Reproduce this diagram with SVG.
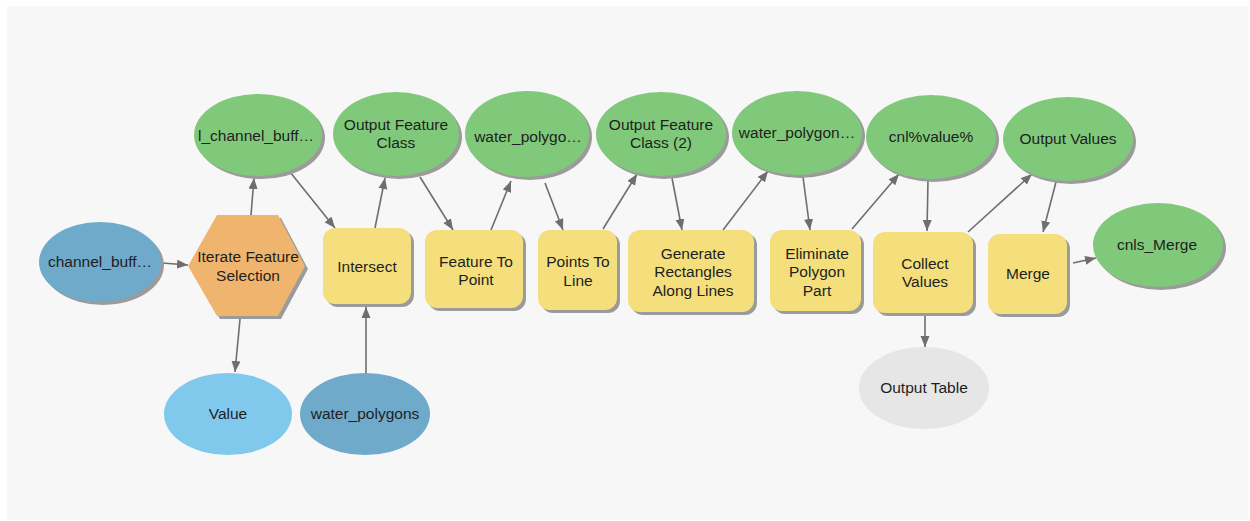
<svg xmlns="http://www.w3.org/2000/svg" width="1250" height="521" viewBox="0 0 1250 521">
<style>
text{font-family:"Liberation Sans",Arial,sans-serif;font-size:15.5px;fill:#1e1e1e;text-anchor:middle}
.sh{fill:#9b9b9b}
.green{fill:#80c97a}
.blue{fill:#6faacb}
.lblue{fill:#80c9ec}
.gray{fill:#e6e6e6}
.tool{fill:#f4df7c}
.iter{fill:#efb56e}
.c line{stroke:#6e6e6e;stroke-width:1.6;marker-end:url(#ah)}
</style>
<defs>
<marker id="ah" markerUnits="userSpaceOnUse" markerWidth="12" markerHeight="10" refX="11" refY="4.5" orient="auto">
<path d="M0,0 L11,4.5 L0,9 z" fill="#6e6e6e"/>
</marker>
</defs>
<rect x="0" y="0" width="1250" height="521" fill="#ffffff"/>
<rect x="7" y="6" width="1241" height="514" fill="#f7f7f7"/>

<g class="c" id="connectors">
<line x1="162" y1="263" x2="188" y2="265"/>
<line x1="251" y1="215" x2="254" y2="178"/>
<line x1="290" y1="172" x2="335" y2="228"/>
<line x1="240" y1="319" x2="235" y2="372"/>
<line x1="366" y1="373" x2="366" y2="307"/>
<line x1="375" y1="228" x2="385" y2="178"/>
<line x1="420" y1="177" x2="453" y2="230"/>
<line x1="491" y1="230" x2="511" y2="181"/>
<line x1="545" y1="183" x2="563" y2="230"/>
<line x1="603" y1="229" x2="637" y2="174"/>
<line x1="672" y1="178" x2="682" y2="230"/>
<line x1="723" y1="230" x2="768" y2="171"/>
<line x1="803" y1="177" x2="810" y2="230"/>
<line x1="852" y1="229" x2="899" y2="174"/>
<line x1="928" y1="180" x2="927" y2="231"/>
<line x1="968" y1="232" x2="1032" y2="174"/>
<line x1="1056" y1="182" x2="1043" y2="232"/>
<line x1="1073" y1="263" x2="1096" y2="258"/>
<line x1="925" y1="316" x2="925" y2="347"/>
</g>

<g id="channel_buff">
<ellipse class="sh" cx="103" cy="265" rx="61" ry="40"/>
<ellipse class="blue" cx="100" cy="262" rx="61" ry="40"/>
<text x="100" y="267">channel_buff…</text>
</g>
<g id="iterate">
<polygon class="sh" points="191,269 220,218 281,218 308,269 281,319 220,319"/>
<polygon class="iter" points="188,266 217,215 278,215 305,266 278,316 217,316"/>
<text x="248" y="262">Iterate Feature</text>
<text x="248" y="281">Selection</text>
</g>
<g id="l_channel_buff">
<ellipse class="sh" cx="261" cy="138" rx="64" ry="41"/>
<ellipse class="green" cx="258" cy="135" rx="64" ry="41"/>
<text x="256" y="141">l_channel_buff…</text>
</g>
<g id="value">
<ellipse class="lblue" cx="228" cy="414" rx="64" ry="41"/>
<text x="228" y="419">Value</text>
</g>
<g id="water_polygons">
<ellipse class="blue" cx="365" cy="414" rx="65" ry="41"/>
<text x="365" y="419">water_polygons</text>
</g>
<g id="intersect">
<rect class="sh" x="326" y="231" width="88" height="76" rx="12"/>
<rect class="tool" x="323" y="228" width="88" height="76" rx="12"/>
<text x="367" y="272">Intersect</text>
</g>
<g id="ofc">
<ellipse class="sh" cx="399" cy="137" rx="63" ry="42"/>
<ellipse class="green" cx="396" cy="134" rx="63" ry="42"/>
<text x="396" y="130">Output Feature</text>
<text x="396" y="148">Class</text>
</g>
<g id="ftp">
<rect class="sh" x="428" y="233" width="98" height="78" rx="12"/>
<rect class="tool" x="425" y="230" width="98" height="78" rx="12"/>
<text x="476" y="267">Feature To</text>
<text x="476" y="285">Point</text>
</g>
<g id="water_polygo1">
<ellipse class="sh" cx="530" cy="137" rx="62" ry="43"/>
<ellipse class="green" cx="527" cy="134" rx="62" ry="43"/>
<text x="528" y="142">water_polygo…</text>
</g>
<g id="ptl">
<rect class="sh" x="541" y="233" width="79" height="80" rx="12"/>
<rect class="tool" x="538" y="230" width="79" height="80" rx="12"/>
<text x="578" y="267">Points To</text>
<text x="578" y="286">Line</text>
</g>
<g id="ofc2">
<ellipse class="sh" cx="664" cy="137" rx="65" ry="42"/>
<ellipse class="green" cx="661" cy="134" rx="65" ry="42"/>
<text x="661" y="130">Output Feature</text>
<text x="661" y="148">Class (2)</text>
</g>
<g id="generate">
<rect class="sh" x="631" y="233" width="126" height="82" rx="12"/>
<rect class="tool" x="628" y="230" width="126" height="82" rx="12"/>
<text x="693" y="259">Generate</text>
<text x="693" y="277">Rectangles</text>
<text x="693" y="296">Along Lines</text>
</g>
<g id="water_polygon2">
<ellipse class="sh" cx="800" cy="136" rx="65" ry="42"/>
<ellipse class="green" cx="797" cy="133" rx="65" ry="42"/>
<text x="797" y="138">water_polygon…</text>
</g>
<g id="eliminate">
<rect class="sh" x="773" y="233" width="91" height="81" rx="12"/>
<rect class="tool" x="770" y="230" width="91" height="81" rx="12"/>
<text x="817" y="259">Eliminate</text>
<text x="817" y="277">Polygon</text>
<text x="817" y="296">Part</text>
</g>
<g id="cnlvalue">
<ellipse class="sh" cx="934" cy="140" rx="65" ry="42"/>
<ellipse class="green" cx="931" cy="137" rx="65" ry="42"/>
<text x="931" y="142">cnl%value%</text>
</g>
<g id="collect">
<rect class="sh" x="876" y="235" width="100" height="81" rx="12"/>
<rect class="tool" x="873" y="232" width="100" height="81" rx="12"/>
<text x="925" y="269">Collect</text>
<text x="925" y="287">Values</text>
</g>
<g id="outvalues">
<ellipse class="sh" cx="1071" cy="142" rx="65" ry="42"/>
<ellipse class="green" cx="1068" cy="139" rx="65" ry="42"/>
<text x="1068" y="144">Output Values</text>
</g>
<g id="merge">
<rect class="sh" x="991" y="237" width="79" height="80" rx="12"/>
<rect class="tool" x="988" y="234" width="79" height="80" rx="12"/>
<text x="1028" y="279">Merge</text>
</g>
<g id="cnls_merge">
<ellipse class="sh" cx="1161" cy="248" rx="65" ry="42"/>
<ellipse class="green" cx="1158" cy="245" rx="65" ry="42"/>
<text x="1157" y="250">cnls_Merge</text>
</g>
<g id="outtable">
<ellipse class="gray" cx="924" cy="388" rx="65" ry="41"/>
<text x="924" y="393">Output Table</text>
</g>
</svg>
